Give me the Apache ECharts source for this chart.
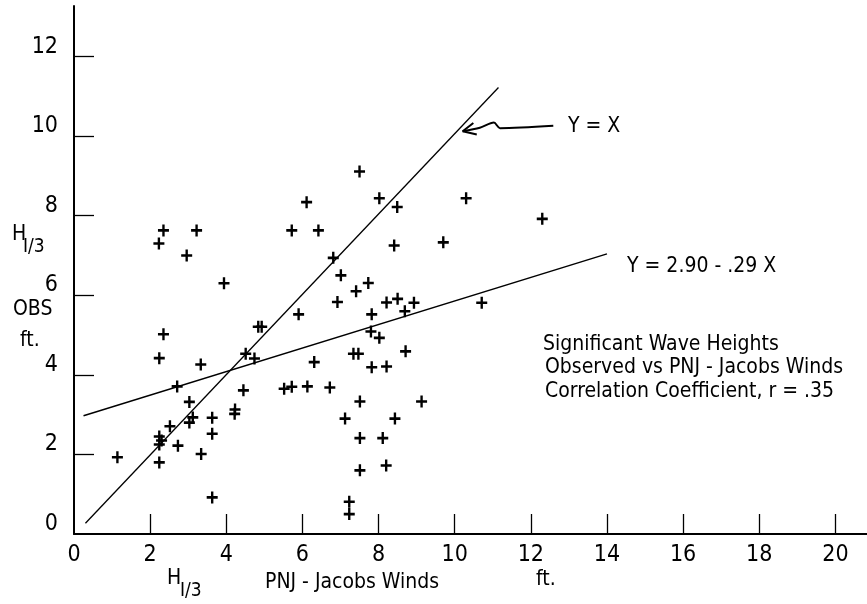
<!DOCTYPE html>
<html>
<head>
<meta charset="utf-8">
<script src="https://cdn.jsdelivr.net/npm/echarts@6/dist/echarts.min.js"></script>
<style>
html,body{margin:0;padding:0;background:#fff;}
#chart{width:867px;height:604px;}
</style>
</head>
<body>
<div id="chart"></div>
<script>
// Tick labels
const xTickLabels = [0, 2, 4, 6, 8, 10, 12, 14, 16, 18, 20];
const yTickLabels = [0, 2, 4, 6, 8, 10, 12];
const xTickMarks = [2, 4, 6, 8, 10, 12, 14, 16, 18, 20];
const yTickMarks = [2, 4, 6, 8, 10, 12];

// H1/3 PNJ - Jacobs Winds (ft.)
const pnjHeights = [1.14, 2.24, 2.24, 2.30, 2.24, 2.52, 2.73, 2.71, 3.03, 3.12,
  3.03, 3.34, 3.63, 3.63, 3.63, 4.22, 4.23, 4.45, 3.33, 2.24,
  2.35, 4.51, 4.74, 4.84, 4.93, 3.94, 2.96, 2.23, 2.35, 3.22,
  5.52, 5.72, 6.13, 6.72, 6.31, 5.90, 5.72, 6.42, 6.11, 6.81,
  7.01, 7.41, 7.73, 6.92, 7.82, 7.80, 8.02, 8.21, 8.50, 8.93,
  8.69, 7.34, 7.47, 8.71, 7.82, 8.21, 7.51, 9.13, 7.12, 8.43,
  7.51, 8.11, 7.51, 8.20, 7.23, 7.23, 7.50, 8.02, 8.49, 8.41,
  9.70, 10.30, 12.30, 10.71];
// H1/3 observed (ft.)
const obsHeights = [1.93, 1.80, 2.25, 2.35, 2.45, 2.71, 2.22, 3.71, 2.80, 2.93,
  3.32, 2.01, 2.52, 2.92, 0.92, 3.02, 3.13, 3.61, 4.26, 4.42,
  5.02, 4.53, 4.41, 5.21, 5.21, 6.30, 7.00, 7.30, 7.63, 7.63,
  3.65, 3.70, 3.71, 3.68, 4.32, 5.52, 7.63, 7.63, 8.34, 6.94,
  6.50, 6.10, 6.31, 5.83, 5.52, 5.09, 4.93, 5.82, 5.91, 5.81,
  5.60, 4.53, 4.53, 4.59, 4.19, 4.21, 3.33, 3.33, 2.90, 2.90,
  2.41, 2.41, 1.60, 1.72, 0.81, 0.50, 9.11, 8.44, 8.22, 7.25,
  7.33, 8.44, 7.92, 5.81];

// Reference lines (end points)
const identityLine = [[0.30, 0.27], [11.15, 11.22]];
const regressionLine = [[0.25, 2.97], [14.0, 7.04]];
// Hand-drawn arrow pointing at the Y = X line
const arrowShaft = [[12.59, 10.26], [11.19, 10.20], [11.03, 10.34], [10.66, 10.21], [10.21, 10.12]];
const arrowHead = [[10.49, 10.33], [10.21, 10.12], [10.58, 10.04]];

const FONT = "'Liberation Sans Narrow', 'DejaVu Sans Condensed', 'Liberation Sans', sans-serif";

const points = pnjHeights.map((x, i) => [x, obsHeights[i]]);

const chart = echarts.init(document.getElementById('chart'), null, {renderer: 'canvas'});

function txt(text, left, y, size) {
  return {
    type: 'text', left: left, top: y - size * 0.6,
    style: {text: text, fill: '#000', font: size + 'px ' + FONT}
  };
}

const plus = 'path://M4,0h2.2v4h4v2.2h-4v4h-2.2v-4h-4v-2.2h4z';

chart.setOption({
  backgroundColor: '#fff',
  animation: false,
  grid: {left: 74, right: 0, top: 6, bottom: 70, containLabel: false},
  xAxis: {
    type: 'value', min: 0, max: 20.83,
    axisLine: {lineStyle: {color: '#000', width: 2}},
    axisTick: {show: true, inside: true, length: 20, customValues: xTickMarks, lineStyle: {color: '#000', width: 1.3}},
    axisLabel: {customValues: xTickLabels, color: '#000', fontSize: 23, fontFamily: FONT, margin: 10},
    splitLine: {show: false}
  },
  yAxis: {
    type: 'value', min: 0, max: 13.27,
    axisLine: {lineStyle: {color: '#000', width: 2}},
    axisTick: {show: true, inside: true, length: 20, customValues: yTickMarks, lineStyle: {color: '#000', width: 1.3}},
    axisLabel: {customValues: yTickLabels, color: '#000', fontSize: 23, fontFamily: FONT, margin: 16, verticalAlign: 'bottom', lineHeight: 20},
    splitLine: {show: false}
  },
  series: [
    {type: 'line', data: identityLine, symbol: 'none', lineStyle: {color: '#000', width: 1.3}, silent: true},
    {type: 'line', data: regressionLine, symbol: 'none', lineStyle: {color: '#000', width: 1.5}, silent: true},
    {type: 'line', data: arrowShaft, symbol: 'none', smooth: 0.3, lineStyle: {color: '#000', width: 2}, silent: true},
    {type: 'line', data: arrowHead, symbol: 'none', lineStyle: {color: '#000', width: 2}, silent: true},
    {type: 'scatter', data: points, symbol: plus, symbolSize: [11, 12], itemStyle: {color: '#000', opacity: 1}}
  ],
  graphic: [
    txt('H', 12, 237, 21),
    txt('I/3', 23, 249, 19),
    txt('OBS', 13, 312, 21),
    txt('ft.', 20, 343, 21),
    txt('H', 167, 581, 21),
    txt('I/3', 180, 593, 19),
    txt('PNJ - Jacobs Winds', 265, 585, 21),
    txt('ft.', 536, 582, 21),
    txt('Y = X', 568, 129, 21),
    txt('Y = 2.90 - .29 X', 627, 269, 21),
    txt('Significant Wave Heights', 543, 347, 21),
    txt('Observed vs PNJ - Jacobs Winds', 545, 370, 21),
    txt('Correlation Coefficient, r = .35', 545, 394, 21)
  ]
});
</script>
</body>
</html>
